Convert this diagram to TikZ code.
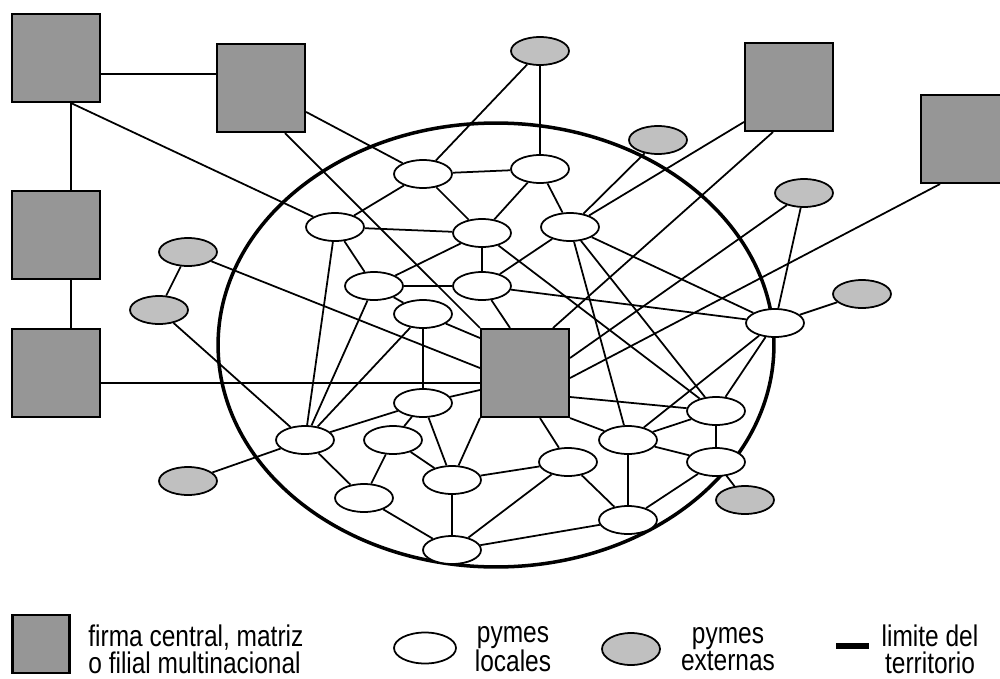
\documentclass[tikz,border=0pt]{standalone}
\usepackage{fontspec}
\newfontfamily\legfont{Liberation Sans}[FakeStretch=0.82]
\usepackage{tikz}
\usetikzlibrary{shapes,arrows,positioning,calc,backgrounds}
\definecolor{firmgray}{RGB}{150,150,150}
\definecolor{extgray}{RGB}{192,192,192}
\begin{document}
\begin{tikzpicture}[
    x=0.02cm, y=-0.02cm,
    firma/.style={draw, line width=1.2pt, fill=firmgray, minimum size=1.76cm, inner sep=0pt},
    pyme/.style={ellipse, draw, line width=1pt, minimum width=1.16cm, minimum height=0.56cm, inner sep=0pt},
    local/.style={pyme, fill=white},
    externa/.style={pyme, fill=extgray},
    link/.style={line width=1pt},
    limite/.style={line width=2pt},
    legtext/.style={font=\legfont\fontsize{17}{15.4}\selectfont, align=center, inner sep=0pt}
]
\useasboundingbox (0,0) rectangle (1000,679);
\node (mn1) [firma] at (56,58) {};
\node (mn2) [firma] at (261,88) {};
\node (mn3) [firma] at (789,87) {};
\node (mn4) [firma] at (965,139) {};
\node (mn5) [firma] at (56,235) {};
\node (mn6) [firma] at (56,373) {};
\node (central) [firma] at (525,373) {};
\node (ext1) [externa] at (540,51) {};
\node (ext2) [externa] at (658,140) {};
\node (ext3) [externa] at (804,193) {};
\node (ext4) [externa] at (862,294) {};
\node (ext5) [externa] at (188,252) {};
\node (ext6) [externa] at (159,310) {};
\node (ext7) [externa] at (188,481) {};
\node (ext8) [externa] at (745,500) {};
\node (loc1) [local] at (423,174) {};
\node (loc2) [local] at (540,169) {};
\node (loc3) [local] at (335,227) {};
\node (loc4) [local] at (482,233) {};
\node (loc5) [local] at (570,227) {};
\node (loc6) [local] at (374,286) {};
\node (loc7) [local] at (482,286) {};
\node (loc8) [local] at (423,314) {};
\node (loc9) [local] at (775,323) {};
\node (loc10) [local] at (423,403) {};
\node (loc11) [local] at (305,440) {};
\node (loc12) [local] at (393,440) {};
\node (loc13) [local] at (628,440) {};
\node (loc14) [local] at (716,411) {};
\node (loc15) [local] at (568,462) {};
\node (loc16) [local] at (716,462) {};
\node (loc17) [local] at (452,480) {};
\node (loc18) [local] at (364,498) {};
\node (loc19) [local] at (628,520) {};
\node (loc20) [local] at (452,550) {};
\node (legfirma) [firma, minimum width=1.14cm, minimum height=1.16cm] at (41,644) {};
\node (txtfirma) [legtext, anchor=west, align=left] at (88,649) {firma central, matriz\\o filial multinacional};
\node (legloc) [local, minimum width=1.24cm, minimum height=0.62cm] at (425,648) {};
\node (txtloc) [legtext] at (513,649) {pymes\\locales};
\node (legext) [externa, minimum width=1.16cm, minimum height=0.64cm] at (631,649) {};
\node (txtext) [legtext] at (728,649) {pymes\\externas};
\node (leglim) [fill=black, minimum width=0.66cm, minimum height=0.12cm, inner sep=0pt] at (852,646) {};
\node (txtlim) [legtext] at (930,649) {limite del\\territorio};
\begin{scope}[on background layer]
\draw [limite] (496,345) ellipse [x radius=5.56cm, y radius=4.44cm];
\draw [link] ([yshift=-0.32cm]mn1.east) -- ([yshift=0.28cm]mn2.west);
\draw [link] ([xshift=0.3cm]mn1.south) -- ([xshift=0.3cm]mn5.north);
\draw [link] ([xshift=0.3cm]mn5.south) -- ([xshift=0.3cm]mn6.north);
\draw [link] ([xshift=0.3cm]mn1.south) -- (loc3);
\draw [link] (mn2) -- (loc1);
\draw [link] ([xshift=0.48cm]mn2.south) -- (central.north west);
\draw [link] ([yshift=-0.7cm]mn3.west) -- (loc5);
\draw [link] ([xshift=-0.32cm]mn3.south) -- ([xshift=0.56cm]central.north);
\draw [link] ([xshift=-0.5cm]mn4.south) -- ([yshift=-0.1cm]central.east);
\draw [link] ([yshift=-0.2cm]mn6.east) -- ([yshift=-0.2cm]central.west);
\draw [link] (ext1) -- (loc1) (ext1) -- (loc2);
\draw [link] (ext2) -- (loc5);
\draw [link] (ext3) -- ([yshift=0.3cm]central.east) (ext3) -- (loc9);
\draw [link] (ext4) -- (loc9);
\draw [link] (ext5) -- (ext6) (ext5) -- ([yshift=0.1cm]central.west);
\draw [link] (ext6) -- (loc11);
\draw [link] (ext7) -- (loc11);
\draw [link] (ext8) -- (loc16);
\draw [link] (loc1) -- (loc2) (loc1) -- (loc3) (loc1) -- (loc4);
\draw [link] (loc2) -- (loc4) (loc2) -- (loc5);
\draw [link] (loc3) -- (loc4) (loc3) -- (loc6) (loc3) -- (loc11);
\draw [link] (loc4) -- (loc6) (loc4) -- (loc7) (loc4) -- (loc14);
\draw [link] (loc5) -- (loc7) (loc5) -- (loc9) (loc5) -- (loc13) (loc5) -- (loc14);
\draw [link] (loc6) -- (loc7) (loc6) -- (loc8) (loc6) -- (loc11);
\draw [link] (loc7) -- (loc9) (loc7) -- ([xshift=-0.3cm]central.north);
\draw [link] (loc8) -- (loc10) (loc8) -- (loc11) (loc8) -- ([yshift=0.7cm]central.west);
\draw [link] (loc9) -- (loc13) (loc9) -- (loc14);
\draw [link] (loc10) -- ([yshift=-0.34cm]central.west) (loc10) -- (loc11) (loc10) -- (loc12) (loc10) -- (loc17);
\draw [link] (loc11) -- (loc18);
\draw [link] (loc12) -- (loc17) (loc12) -- (loc18);
\draw [link] (central.south west) -- (loc17) ([xshift=0.3cm]central.south) -- (loc15) (central.south east) -- (loc13);
\draw [link] ([yshift=-0.48cm]central.east) -- (loc14);
\draw [link] (loc13) -- (loc14) (loc13) -- (loc16) (loc13) -- (loc19);
\draw [link] (loc14) -- (loc16);
\draw [link] (loc15) -- (loc17) (loc15) -- (loc19) (loc15) -- (loc20);
\draw [link] (loc16) -- (loc19);
\draw [link] (loc17) -- (loc20);
\draw [link] (loc18) -- (loc20);
\draw [link] (loc19) -- (loc20);
\end{scope}
\end{tikzpicture}
\end{document}
